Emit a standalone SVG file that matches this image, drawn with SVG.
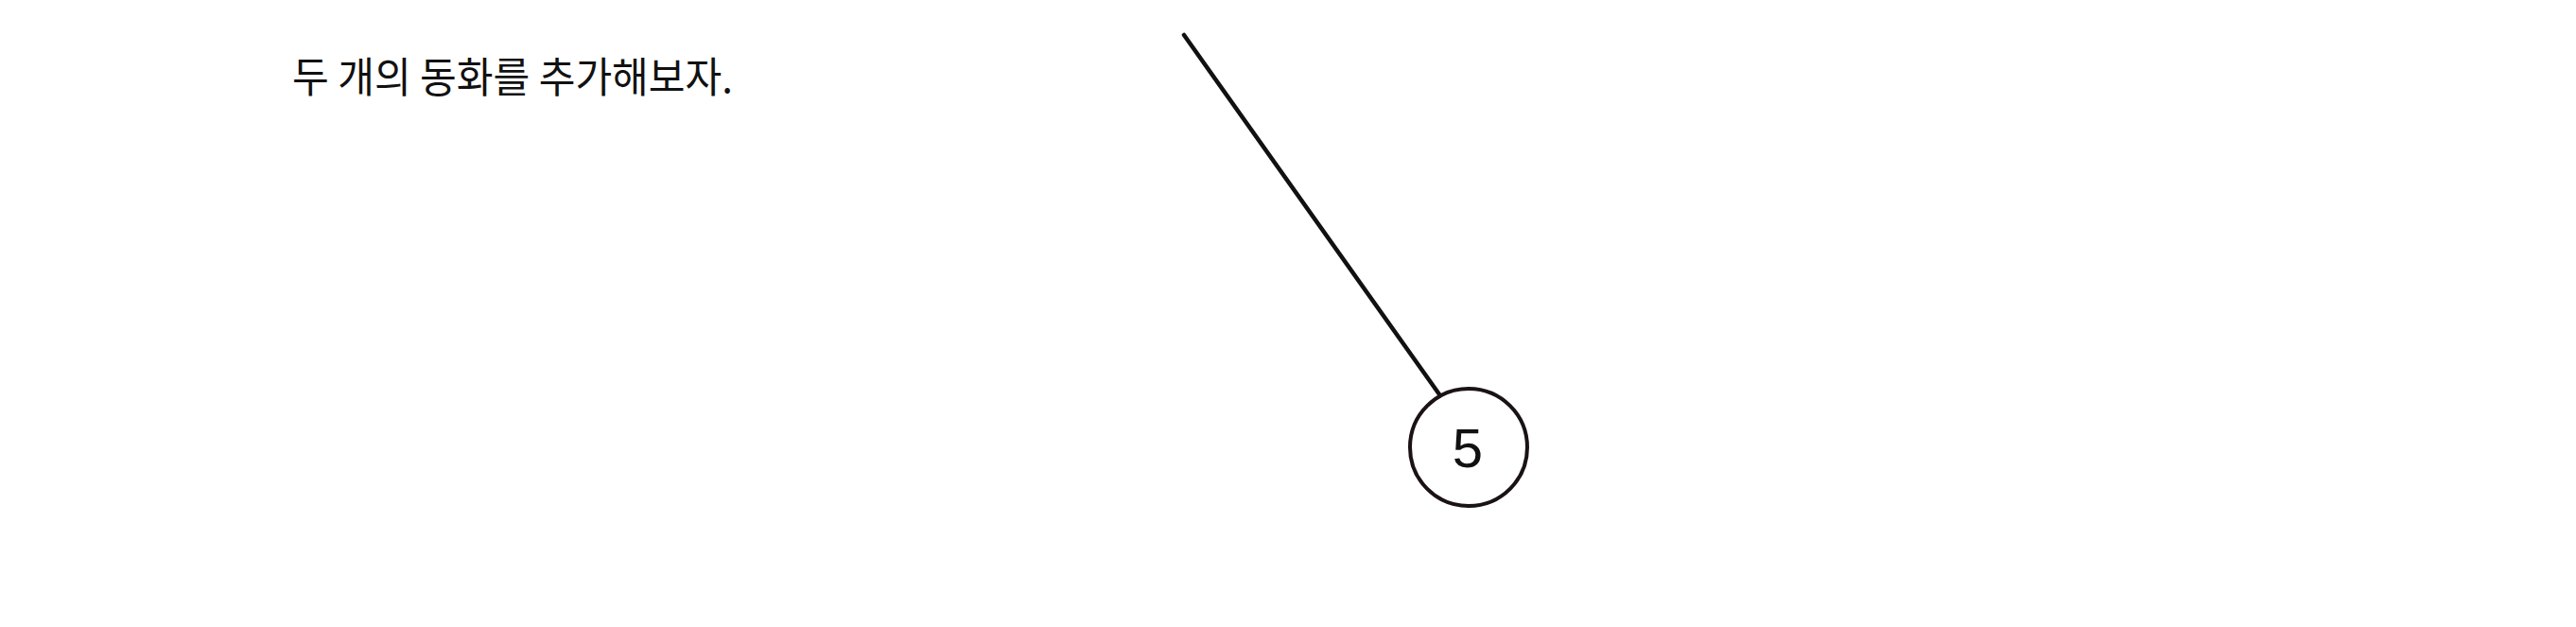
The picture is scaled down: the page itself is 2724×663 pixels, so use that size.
<svg xmlns="http://www.w3.org/2000/svg" width="2724" height="663" viewBox="0 0 2724 663">
<style>
.caption{font-family:"Noto Sans CJK KR","Noto Sans",sans-serif;font-size:44px;fill:#111}
.edge{stroke:#111;stroke-width:4.5;stroke-linecap:round;fill:none}
.node circle{fill:#fff;stroke:#1a1216;stroke-width:4}
.label{font-family:"Liberation Sans",sans-serif;font-size:58px;fill:#111;text-anchor:middle}
</style>
<rect width="2724" height="663" fill="#fff"/>
<text class="caption" x="309" y="98" textLength="466" lengthAdjust="spacingAndGlyphs">두 개의 동화를 추가해보자.</text>
<g id="connectors">
<line class="edge" x1="1252" y1="37" x2="1522" y2="417"/>
</g>
<g id="node-5" class="node">
<circle cx="1553" cy="473" r="62"/>
<text class="label" x="1552" y="494">5</text>
</g>
</svg>
